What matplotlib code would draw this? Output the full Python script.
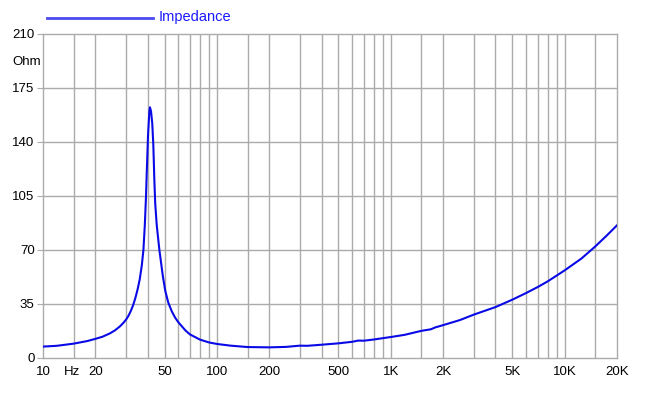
import numpy as np
import matplotlib
matplotlib.use("Agg")
import matplotlib.pyplot as plt
from matplotlib.lines import Line2D

plt.rcParams['font.family'] = ['Liberation Sans', 'DejaVu Sans']

# impedance curve (Hz, Ohm)
freq = [10, 12, 15, 18, 20, 22, 24.3, 26, 27.7, 29, 30, 31, 32, 33, 34, 35,
        36, 37, 37.8, 38.5, 39.1, 39.5, 40.2, 40.9, 41.2, 41.8, 42.5, 43.1,
        43.7, 44.2, 45.1, 46.7, 48.9, 50.5, 52.5, 55, 57.5, 60, 66, 70, 80,
        90, 100, 120, 150, 200, 250, 280, 300, 330, 400, 500, 600, 650, 700,
        800, 1000, 1200, 1500, 1700, 1800, 2000, 2500, 3000, 4000, 5000,
        6000, 7000, 8000, 10000, 12500, 15000, 17500, 20000]
ohm = [7.4, 7.9, 9.3, 11.0, 12.4, 13.8, 16.0, 18.0, 20.5, 22.8, 24.8, 27.3,
       30.5, 34.3, 39, 44.5, 51, 60, 70, 86, 104, 120, 145, 160, 162.5, 160,
       152, 138, 115, 100, 86, 70, 53, 43.5, 36, 30.3, 26.2, 23.2, 17.8,
       15.3, 11.9, 10.1, 9.1, 8.0, 7.1, 6.9, 7.2, 7.7, 8.0, 7.9, 8.6, 9.5,
       10.5, 11.3, 11.2, 12.0, 13.6, 15.0, 17.6, 18.6, 19.8, 21.3, 24.6,
       28.1, 33.0, 37.8, 42.1, 46.0, 49.7, 56.8, 64.5, 72.3, 79.5, 86.0]

xgrid = [15, 20, 30, 40, 50, 60, 70, 80, 90, 100, 150, 200, 300, 400, 500,
         600, 700, 800, 900, 1000, 1500, 2000, 3000, 4000, 5000, 6000, 7000,
         8000, 9000, 10000, 15000]
xticks = [10, 20, 50, 100, 200, 500, 1000, 2000, 5000, 10000, 20000]
xlabels = ['10', '20', '50', '100', '200', '500', '1K', '2K', '5K', '10K', '20K']
yticks = [0, 35, 70, 105, 140, 175, 210]

gc = '#ababab'
blue = '#0a0ae6'

fig = plt.figure(figsize=(6.5, 3.94), dpi=100)
ax = fig.add_axes([43 / 650, 36 / 394, 574 / 650, 324 / 394])

for f in xgrid:
    ax.axvline(f, color=gc, lw=1, zorder=1)
for v in yticks[1:-1]:
    ax.axhline(v, color=gc, lw=1, zorder=1)

ax.plot(freq, ohm, color=blue, lw=1.5, zorder=3)

ax.set_xscale('log')
ax.set_xlim(10, 20000)
ax.set_ylim(0, 210)
ax.set_xticks(xticks)
ax.set_xticklabels(xlabels)
ax.xaxis.set_minor_locator(matplotlib.ticker.NullLocator())
ax.set_yticks(yticks)
ax.tick_params(axis='x', length=0, pad=6, labelsize=9.5)
ax.tick_params(axis='y', length=4, color=gc, pad=2, labelsize=9.5)
for s in ax.spines.values():
    s.set_color(gc)
    s.set_linewidth(1)

# "Hz" sits on the same line as the tick labels
ax.annotate('Hz', xy=(14.6, 0), xycoords='data', xytext=(0, -6),
            textcoords='offset points', ha='center', va='top', fontsize=9.5)
fig.text(12 / 650, 1 - 62 / 394, 'Ohm', ha='left', va='center', fontsize=9.5)

# legend at top
fig.add_artist(Line2D([47 / 650, 153 / 650], [1 - 18 / 394] * 2,
                      color='#4a4aee', lw=2))
fig.text(159 / 650, 1 - 17 / 394, 'Impedance', color='#1a1aff',
         ha='left', va='center', fontsize=10.5)

fig.savefig('out.png', dpi=100)
